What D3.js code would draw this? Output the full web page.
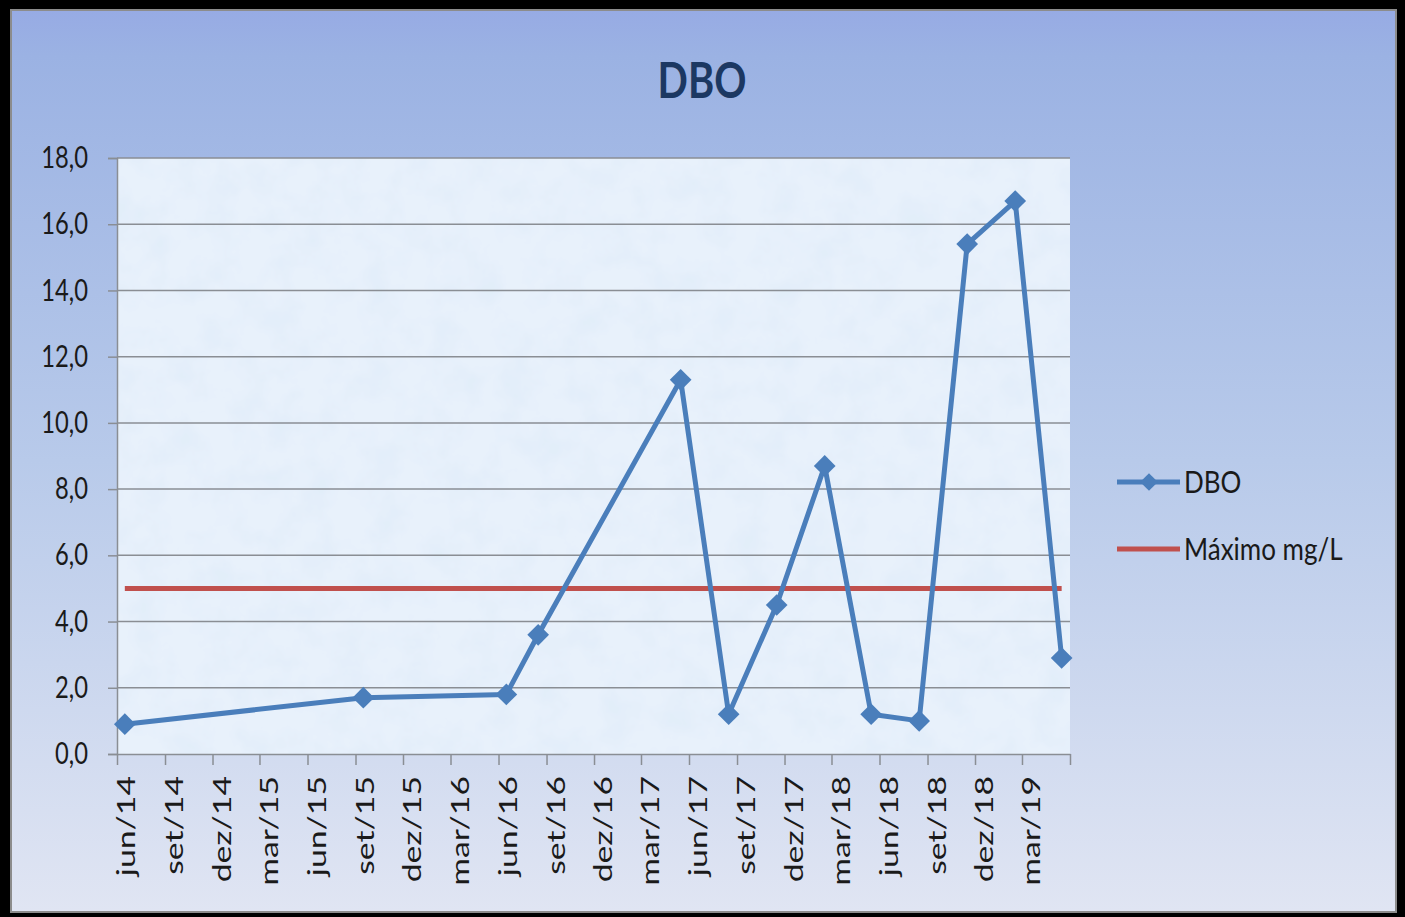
<!DOCTYPE html>
<html>
<head>
<meta charset="utf-8">
<script src="https://cdn.jsdelivr.net/npm/d3@7"></script>
<style>
  body { margin: 0; background: #000; }
  svg text { font-family: Lato, "Open Sans", sans-serif; fill: #1a1a1a; }
</style>
</head>
<body>
<div id="chart"></div>
<script>
// data (dates are the month of each sample)
let sampleDates = ["2014-06", "2015-09", "2016-06", "2016-08", "2017-05", "2017-08", "2017-11",
                   "2018-02", "2018-05", "2018-08", "2018-11", "2019-02", "2019-05"];
let dboValues = [0.9, 1.7, 1.8, 3.6, 11.3, 1.2, 4.5, 8.7, 1.2, 1.0, 15.4, 16.7, 2.9];
let maxValues = [5, 5, 5, 5, 5, 5, 5, 5, 5, 5, 5, 5, 5];
let xTickLabels = ["jun/14", "set/14", "dez/14", "mar/15", "jun/15", "set/15", "dez/15", "mar/16",
                   "jun/16", "set/16", "dez/16", "mar/17", "jun/17", "set/17", "dez/17", "mar/18",
                   "jun/18", "set/18", "dez/18", "mar/19", ""];
let yTicks = [0, 2, 4, 6, 8, 10, 12, 14, 16, 18];
let seriesNames = ["DBO", "Máximo mg/L"];

// dimensions
let width = 1405;
let height = 917;
let margin = {left: 117, right: 335, top: 158, bottom: 163};

let parseMonth = d3.timeParse("%Y-%m");
// points sit in the middle of their month
let midMonth = function(s) { return d3.timeDay.offset(parseMonth(s), 15); };

let xStart = parseMonth("2014-06");
let xEnd = parseMonth("2019-06");

let x = d3.scaleTime()
  .domain([xStart, xEnd])
  .range([margin.left, width - margin.right]);

let y = d3.scaleLinear()
  .domain([0, 18])
  .range([height - margin.bottom, margin.top]);

let svg = d3.select("#chart").append("svg")
  .attr("width", width)
  .attr("height", height);

let defs = svg.append("defs");

// chart background gradient
let bg = defs.append("linearGradient")
  .attr("id", "bgGrad")
  .attr("x1", 0).attr("y1", 0).attr("x2", 0).attr("y2", 1);
bg.append("stop").attr("offset", "0%").attr("stop-color", "#97abe4");
bg.append("stop").attr("offset", "5%").attr("stop-color", "#9bb2e3");
bg.append("stop").attr("offset", "50%").attr("stop-color", "#b8caea");
bg.append("stop").attr("offset", "100%").attr("stop-color", "#e0e5f3");

// paper-like texture for plot area
let tex = defs.append("filter").attr("id", "paper")
  .attr("x", 0).attr("y", 0).attr("width", 1).attr("height", 1);
tex.append("feTurbulence")
  .attr("type", "fractalNoise")
  .attr("baseFrequency", 0.03)
  .attr("numOctaves", 4)
  .attr("seed", 4)
  .attr("result", "noise");
tex.append("feColorMatrix")
  .attr("in", "noise")
  .attr("type", "matrix")
  .attr("values", "0 0 0 0 0.76  0 0 0 0 0.85  0 0 0 0 0.95  0 0 0 -2.2 1.35")
  .attr("result", "tint");
tex.append("feComposite").attr("in", "tint").attr("in2", "SourceGraphic").attr("operator", "atop");

// outer frame
svg.append("rect")
  .attr("x", 0).attr("y", 0)
  .attr("width", width).attr("height", height)
  .style("fill", "#000");
svg.append("rect")
  .attr("x", 10).attr("y", 9)
  .attr("width", width - 18).attr("height", height - 13)
  .style("fill", "#8c8c8c");
svg.append("rect")
  .attr("x", 12).attr("y", 11)
  .attr("width", width - 22).attr("height", height - 17)
  .style("fill", "url(#bgGrad)");

// plot area
svg.append("rect")
  .attr("x", margin.left).attr("y", margin.top)
  .attr("width", width - margin.left - margin.right)
  .attr("height", height - margin.top - margin.bottom)
  .style("fill", "#e8f1fb")
  .attr("filter", "url(#paper)");

// title
svg.append("text")
  .attr("transform", "translate(702,98) scale(0.95,1.2)")
  .attr("text-anchor", "middle")
  .style("font-size", "42px")
  .style("font-weight", "bold")
  .style("fill", "#1c3862")
  .text("DBO");

// gridlines
svg.append("g")
  .selectAll("line")
  .data(yTicks.slice(1))
  .enter().append("line")
  .attr("x1", margin.left).attr("x2", width - margin.right)
  .attr("y1", function(d) { return y(d); })
  .attr("y2", function(d) { return y(d); })
  .style("stroke", "#8a8e94")
  .style("stroke-width", 1.5);

// y axis
let yAxis = d3.axisLeft(y)
  .tickValues(yTicks)
  .tickSize(9)
  .tickPadding(20)
  .tickFormat(function(d) { return d3.format(".1f")(d).replace(".", ","); });
let yg = svg.append("g")
  .attr("transform", "translate(" + margin.left + ",0)")
  .call(yAxis);
yg.select(".domain").style("stroke", "#8a8e94").style("stroke-width", 1.5);
yg.selectAll(".tick line").style("stroke", "#8a8e94").style("stroke-width", 1.5);
yg.selectAll("text")
  .style("font-size", "25px")
  .style("font-family", "Lato, sans-serif")
  .style("fill", "#1a1a1a")
  .attr("transform", "translate(-29,0) scale(0.95,1.2) translate(29,0)");

// x axis
let xTickValues = d3.timeMonth.range(xStart, d3.timeDay.offset(xEnd, 1), 3);
let xAxis = d3.axisBottom(x)
  .tickValues(xTickValues)
  .tickSize(11)
  .tickSizeOuter(0)
  .tickFormat(function(d, i) { return xTickLabels[i]; });
let xg = svg.append("g")
  .attr("transform", "translate(0," + (height - margin.bottom) + ")")
  .call(xAxis);
xg.select(".domain").style("stroke", "#8a8e94").style("stroke-width", 1.5);
xg.selectAll(".tick line").style("stroke", "#8a8e94").style("stroke-width", 1.5);
xg.selectAll("text")
  .style("font-size", "25px")
  .style("font-family", "Lato, sans-serif")
  .style("fill", "#1a1a1a")
  .attr("text-anchor", "end")
  .attr("transform", "rotate(-90) translate(-22,0) scale(1.35,1)")
  .attr("x", 0)
  .attr("y", 9)
  .attr("dy", "0.35em");

// series
let dboData = sampleDates.map(function(d, i) { return {date: midMonth(d), value: dboValues[i]}; });
let maxData = sampleDates.map(function(d, i) { return {date: midMonth(d), value: maxValues[i]}; });

let line = d3.line()
  .x(function(d) { return x(d.date); })
  .y(function(d) { return y(d.value); });

svg.append("path")
  .datum(maxData)
  .attr("d", line)
  .style("fill", "none")
  .style("stroke", "#c0504d")
  .style("stroke-width", 5);

svg.append("path")
  .datum(dboData)
  .attr("d", line)
  .style("fill", "none")
  .style("stroke", "#4a7ebb")
  .style("stroke-width", 5)
  .style("stroke-linejoin", "round");

let diamond = d3.symbol().type(d3.symbolDiamond2).size(300);
svg.selectAll(".marker")
  .data(dboData)
  .enter().append("path")
  .attr("class", "marker")
  .attr("d", diamond)
  .attr("transform", function(d) { return "translate(" + x(d.date) + "," + y(d.value) + ")"; })
  .style("fill", "#4a7ebb");

// legend
let legend = svg.append("g")
  .attr("transform", "translate(1117,482)")
  .selectAll("g")
  .data(seriesNames)
  .enter().append("g")
  .attr("transform", function(d, i) { return "translate(0," + (i * 67) + ")"; });
legend.append("line")
  .attr("x1", 0).attr("x2", 63)
  .style("stroke", function(d, i) { return i === 0 ? "#4a7ebb" : "#c0504d"; })
  .style("stroke-width", 5);
legend.filter(function(d, i) { return i === 0; })
  .append("path")
  .attr("d", d3.symbol().type(d3.symbolDiamond2).size(200))
  .attr("transform", "translate(32,0)")
  .style("fill", "#4a7ebb");
legend.append("text")
  .attr("transform", "translate(67,0) scale(1,1.2)")
  .attr("dy", "0.35em")
  .style("font-size", "26px")
  .text(function(d) { return d; });
</script>
</body>
</html>
